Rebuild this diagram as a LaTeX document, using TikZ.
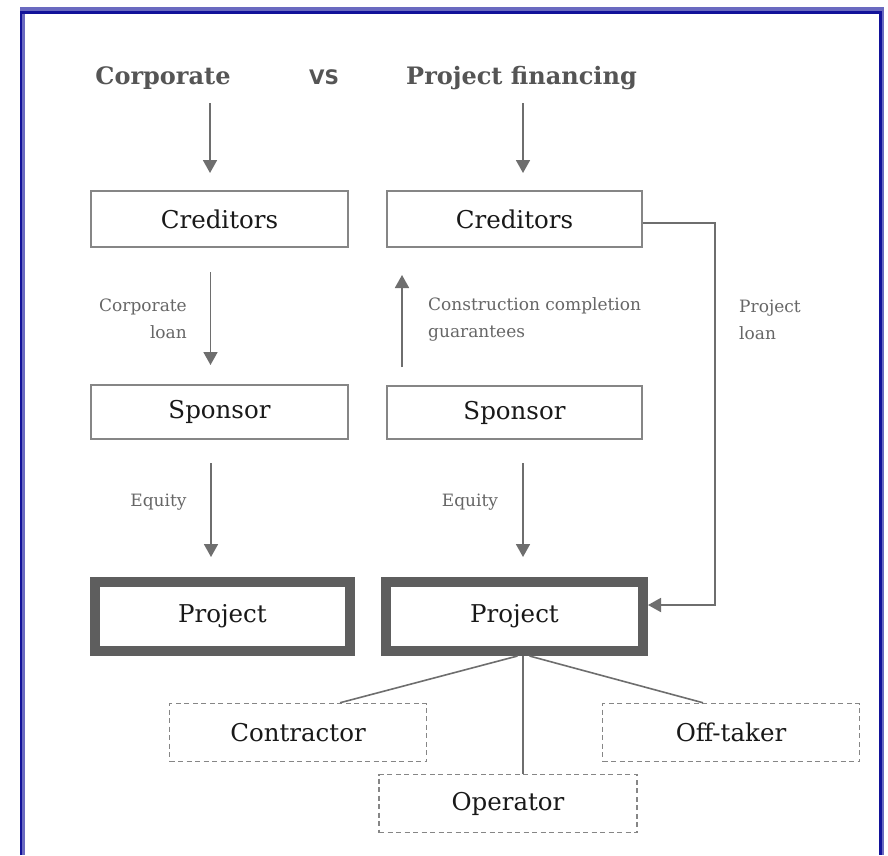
\documentclass[tikz,border=0pt]{standalone}
\usepackage{fontspec}
\setmainfont{DejaVu Serif}
\newfontfamily\vsfont{DejaVu Sans}
\usetikzlibrary{arrows.meta}

\definecolor{frameDark}{HTML}{12129A}
\definecolor{frameLight}{HTML}{6A6AC0}
\definecolor{boxLine}{HTML}{868686}
\definecolor{heavyLine}{HTML}{5E5E5E}
\definecolor{arrowGray}{HTML}{6E6E6E}
\definecolor{labelGray}{HTML}{666666}
\definecolor{titleGray}{HTML}{555555}

\tikzset{
  plainbox/.style={draw=boxLine, line width=2pt, inner sep=0pt,
    minimum height=56pt, font=\fontsize{24.5}{29}\selectfont, text=black!90},
  heavybox/.style={draw=heavyLine, line width=10pt, inner sep=0pt,
    minimum width=255pt, minimum height=69pt, font=\fontsize{24.5}{29}\selectfont, text=black!90},
  partybox/.style={draw=boxLine, line width=1.5pt, dash pattern=on 5pt off 3.5pt,
    inner sep=0pt, minimum width=257pt, minimum height=58pt,
    font=\fontsize{24.5}{29}\selectfont, text=black!90},
  flowlabel/.style={inner sep=0pt, text=labelGray,
    font=\fontsize{17}{27}\selectfont},
  headline/.style={inner sep=0pt, text=titleGray,
    font=\fontsize{24}{29}\selectfont\bfseries},
  arr/.style={draw=arrowGray, line width=1.8pt,
    -{Triangle[width=14pt,length=13pt]}},
  link/.style={draw=arrowGray, line width=1.6pt},
}

\begin{document}
\begin{tikzpicture}[x=1pt, y=-1pt]
  \useasboundingbox (0,0) rectangle (888,855);
  \fill[white] (0,0) rectangle (888,855);

  % page frame (open at the bottom)
  \draw[frameLight, line width=3pt] (23.5,855) -- (23.5,9);
  \draw[frameLight, line width=4pt] (20,9) -- (884,9);
  \draw[frameLight, line width=2pt] (883,9) -- (883,855);
  \draw[frameDark, line width=2pt] (21,855) -- (21,12.25);
  \draw[frameDark, line width=2.5pt] (20,12.25) -- (881,12.25);
  \draw[frameDark, line width=3pt] (880.5,11) -- (880.5,855);

  % headings
  \node[headline] (corpTitle) at (163,78) {Corporate};
  \node[inner sep=0pt, text=titleGray, font=\vsfont\fontsize{20}{24}\selectfont\bfseries]
    (vs) at (324,77) {VS};
  \node[headline] (pfTitle) at (521.5,78) {Project financing};

  % corporate financing column
  \node[plainbox, minimum width=257pt] (credL) at (219.5,219) {Creditors};
  \node[plainbox, minimum width=257pt, minimum height=54pt] (sponL) at (219.5,412) {Sponsor};
  \node[heavybox] (projL) at (222.5,616.5) {Project};

  % project financing column
  \node[plainbox, minimum width=255pt] (credR) at (514.5,219) {Creditors};
  \node[plainbox, minimum width=255pt, minimum height=53pt] (sponR) at (514.5,412.5) {Sponsor};
  \node[heavybox, minimum width=257pt] (projR) at (514.5,616.5) {Project};

  % contractual parties around the project company
  \node[partybox] (contractor) at (298,732.5) {Contractor};
  \node[partybox, minimum width=258pt] (operator) at (508,803.5) {Operator};
  \node[partybox] (offtaker) at (731,732.5) {Off-taker};

  % arrow start points below the headings
  \coordinate (corpStart) at (210,103);
  \coordinate (pfStart) at (523,103);

  % arrows
  \draw[arr, shorten >=17pt] (corpStart) -- (corpStart |- credL.north);
  \draw[arr, shorten >=17pt] (pfStart) -- (pfStart |- credR.north);
  \draw[arr, shorten <=24pt, shorten >=19pt] ([xshift=-9pt]credL.south) -- ([xshift=-9pt]sponL.north);
  \draw[arr, shorten <=23pt, shorten >=20pt] ([xshift=-8.5pt]sponL.south) -- ([xshift=-11.5pt]projL.north);
  \draw[arr, shorten <=23pt, shorten >=20pt] ([xshift=8.5pt]sponR.south) -- ([xshift=8.5pt]projR.north);
  \draw[arr, shorten <=18pt, shorten >=27pt] ([xshift=-112.5pt]sponR.north) -- ([xshift=-112.5pt]credR.south);
  \draw[arr] ([yshift=-4pt]credR.east) -- ++(72,0) |- ([yshift=11.5pt]projR.east);

  % links to the parties
  \draw[link] ([xshift=3pt]projR.south) -- ([xshift=42pt]contractor.north);
  \draw[link] ([xshift=8.5pt]projR.south) -- ([xshift=15pt]operator.north);
  \draw[link] ([xshift=15pt]projR.south) -- ([xshift=-28pt]offtaker.north);

  % flow labels
  \node[flowlabel, align=right, anchor=east] (lblCorpLoan) at (187,318.5) {Corporate\\loan};
  \node[flowlabel, align=left, anchor=west] (lblGuar) at (428,319.5) {Construction completion\\guarantees};
  \node[flowlabel, align=left, anchor=west] (lblProjLoan) at (739,319.5) {Project\\loan};
  \node[flowlabel] (lblEqL) at (158.5,502) {Equity};
  \node[flowlabel] (lblEqR) at (470,502) {Equity};
\end{tikzpicture}
\end{document}
